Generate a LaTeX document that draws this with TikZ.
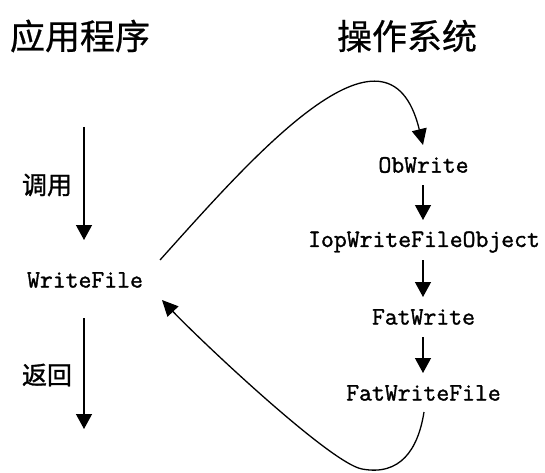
\documentclass[tikz,border=0pt]{standalone}
\usepackage{fontspec}
\newfontfamily\cjk[FakeBold=0.6]{Noto Sans CJK SC}
\newfontfamily\cjklab[FakeBold=1.2]{Noto Sans CJK SC}
\newfontfamily\mono[FakeBold=1.4]{Latin Modern Mono}
\usetikzlibrary{arrows.meta}
\begin{document}
\begin{tikzpicture}[x=1pt,y=1pt,
  title/.style={font=\cjk\fontsize{35}{40}\selectfont, inner sep=0pt},
  lab/.style={font=\cjklab\fontsize{25}{30}\selectfont, inner sep=0pt},
  fn/.style={font=\mono\fontsize{25}{30}\selectfont, inner sep=0pt},
  arr/.style={line width=1.3pt, -{Triangle[width=16pt,length=15pt]}},
  curvearr/.style={line width=1.3pt, -{Triangle[width=15pt,length=16pt]}}]
\useasboundingbox (0,0) rectangle (545,472);
\node[title] (t1) at (80,436) {应用程序};
\node[title] (t2) at (407,436) {操作系统};
\node[lab] (call) at (47,287) {调用};
\node[lab] (ret) at (47,97) {返回};
\node[fn] (wf) at (85,192) {WriteFile};
\node[fn] (ob) at (423.5,307) {ObWrite};
\node[fn] (iop) at (424,230) {IopWriteFileObject};
\node[fn] (fw) at (423.5,155) {FatWrite};
\node[fn] (fwf) at (423.5,79) {FatWriteFile};
\coordinate (top) at (84,345);
\coordinate (bot) at (84,43);
\draw[arr] (top) -- ([xshift=-1pt,yshift=40pt]wf.center);
\draw[arr] ([xshift=-1pt,yshift=-38pt]wf.center) -- (bot);
\draw[arr] ([xshift=-0.5pt,yshift=-20pt]ob.center) -- ([xshift=-1pt,yshift=22pt]iop.center);
\draw[arr] ([xshift=-1pt,yshift=-18pt]iop.center) -- ([xshift=-0.5pt,yshift=20pt]fw.center);
\draw[arr] ([xshift=-0.5pt,yshift=-20pt]fw.center) -- ([xshift=-0.5pt,yshift=20pt]fwf.center);
\draw[curvearr] ([xshift=75pt,yshift=20pt]wf.center) .. controls (250,312) and (388,472) .. ([xshift=-0.5pt,yshift=20pt]ob.center);
\draw[curvearr] ([xshift=0.5pt,yshift=-19pt]fwf.center) .. controls (418,22) and (400,-4) .. (362,3)
  .. controls (330,9) and (200,132) .. ([xshift=77pt,yshift=-20pt]wf.center);
\end{tikzpicture}
\end{document}
